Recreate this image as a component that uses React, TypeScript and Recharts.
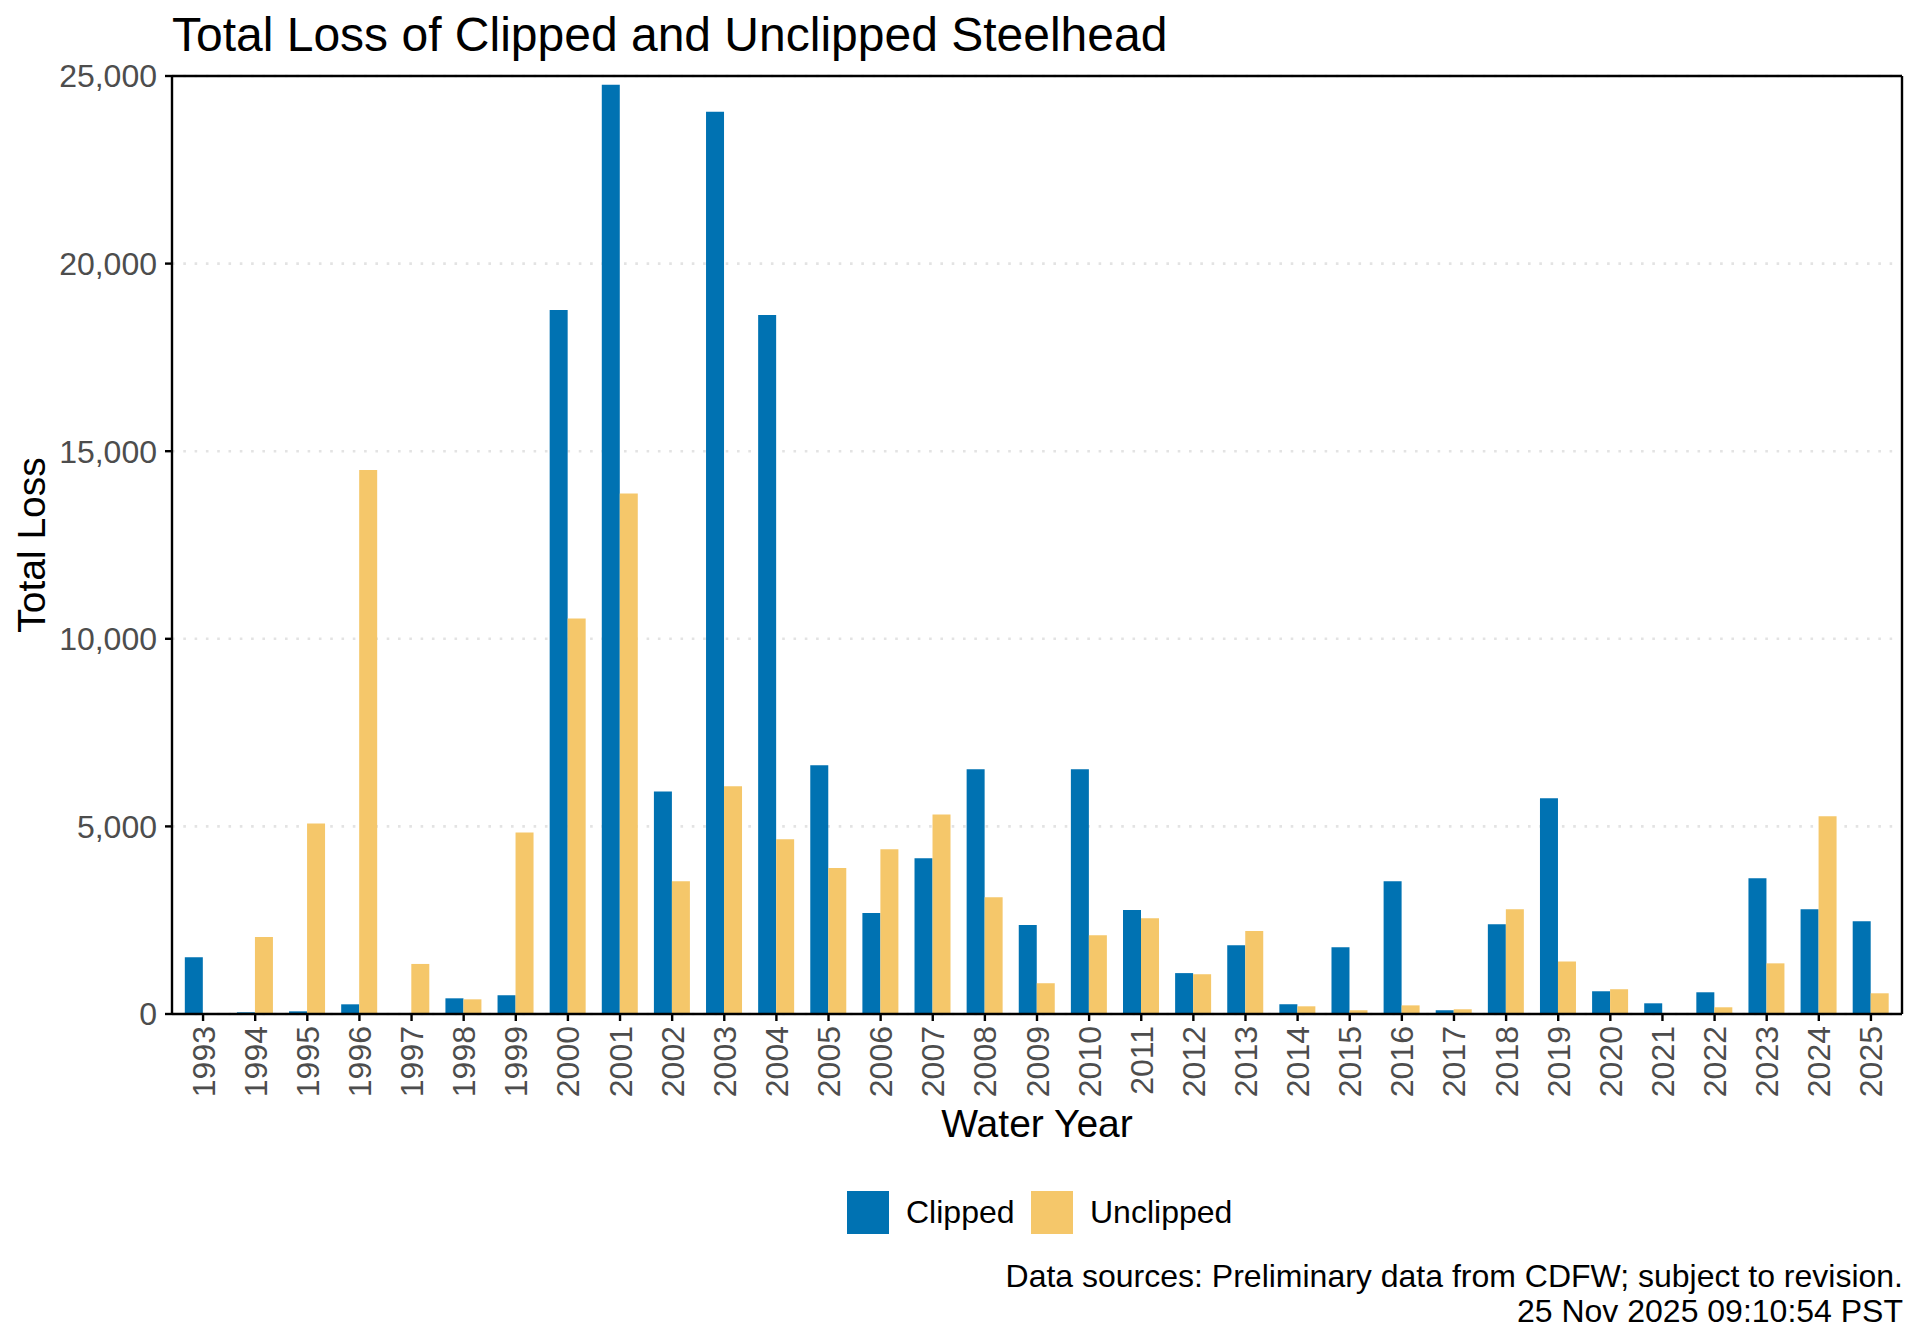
import { BarChart, Bar, XAxis, YAxis, CartesianGrid } from 'recharts'

// water years on the x axis
const years = [
  '1993', '1994', '1995', '1996', '1997', '1998', '1999', '2000', '2001', '2002', '2003',
  '2004', '2005', '2006', '2007', '2008', '2009', '2010', '2011', '2012', '2013', '2014',
  '2015', '2016', '2017', '2018', '2019', '2020', '2021', '2022', '2023', '2024', '2025',
]

// total loss
const clipped = [
  1510, 45, 71, 258, 0, 418, 498, 18760, 24770, 5930, 24050,
  18630, 6630, 2690, 4150, 6520, 2370, 6520, 2770, 1090, 1830, 260,
  1780, 3540, 100, 2390, 5750, 606, 285, 579, 3620, 2790, 2470,
]
const unclipped = [
  0, 2055, 5080, 14500, 1334, 391, 4840, 10540, 13870, 3540, 6070,
  4660, 3890, 4390, 5320, 3110, 820, 2100, 2550, 1060, 2210, 205,
  100, 230, 126, 2790, 1400, 660, 20, 179, 1350, 5270, 552,
]

const yTicks = [0, 5000, 10000, 15000, 20000, 25000]

const FONT = '"Liberation Sans", Arial, Helvetica, sans-serif'
const GREY = '#4d4d4d'
const SMALL = 32

const series = [
  { key: 'Clipped', color: '#0072B2' },
  { key: 'Unclipped', color: '#F5C76A' },
]

const data = years.map((year, i) => ({
  year,
  Clipped: clipped[i],
  Unclipped: unclipped[i],
}))

const W = 1920
const H = 1344

// rotated year labels, centred on the tick
function YearTick(props: any) {
  const { x, y, payload } = props
  return (
    <text
      x={x}
      y={y}
      dy="0.36em"
      transform={`rotate(-90 ${x} ${y})`}
      textAnchor="end"
      fill={GREY}
      fontSize={SMALL}
      fontFamily={FONT}
    >
      {payload.value}
    </text>
  )
}

const border = { stroke: '#000', strokeWidth: 2.4 }

export default function App() {
  return (
    <div style={{ position: 'absolute', left: 0, top: 0, width: W, height: H, background: '#fff', fontFamily: FONT }}>
      <BarChart
        width={W}
        height={H}
        data={data}
        margin={{ top: 75, right: 17, bottom: 240, left: 0 }}
        barCategoryGap="15%"
        barGap={0}
      >
        <CartesianGrid
          horizontal
          vertical={false}
          stroke="#e3e3e3"
          strokeWidth={2.6}
          strokeDasharray="2.6 8.7"
        />
        <XAxis
          dataKey="year"
          height={90}
          interval={0}
          padding={{ left: 5, right: 5 }}
          tickSize={7}
          tickMargin={5}
          tick={<YearTick />}
          axisLine={border}
          tickLine={border}
        />
        <XAxis
          xAxisId="top"
          dataKey="year"
          orientation="top"
          height={1}
          padding={{ left: 5, right: 5 }}
          tick={false}
          tickLine={false}
          axisLine={border}
        />
        <YAxis
          width={172}
          domain={[0, 25000]}
          ticks={yTicks}
          interval={0}
          tickSize={7}
          tickMargin={8}
          tickFormatter={(v: number) => v.toLocaleString('en-US')}
          tick={{ fill: GREY, fontSize: SMALL, fontFamily: FONT }}
          axisLine={border}
          tickLine={border}
        />
        <YAxis
          yAxisId="right"
          orientation="right"
          width={1}
          domain={[0, 25000]}
          tick={false}
          tickLine={false}
          axisLine={border}
        />
        {series.map((s) => (
          <Bar key={s.key} dataKey={s.key} fill={s.color} isAnimationActive={false} />
        ))}
      </BarChart>

      {/* titles, legend, caption */}
      <svg
        width={W}
        height={H}
        style={{ position: 'absolute', left: 0, top: 0, pointerEvents: 'none' }}
        fontFamily={FONT}
      >
        <text x={172} y={51} fontSize={48} fill="#000">
          Total Loss of Clipped and Unclipped Steelhead
        </text>
        <text x={45} y={545} fontSize={39} fill="#000" textAnchor="middle" transform="rotate(-90 45 545)">
          Total Loss
        </text>
        <text x={1037} y={1137} fontSize={39} fill="#000" textAnchor="middle">
          Water Year
        </text>

        <rect x={847} y={1191} width={42} height={43} fill={series[0].color} />
        <text x={906} y={1223} fontSize={SMALL} fill="#000">{series[0].key}</text>
        <rect x={1031} y={1191} width={42} height={43} fill={series[1].color} />
        <text x={1090} y={1223} fontSize={SMALL} fill="#000">{series[1].key}</text>

        <text x={1903} y={1287} fontSize={SMALL} fill="#000" textAnchor="end">
          Data sources: Preliminary data from CDFW; subject to revision.
        </text>
        <text x={1903} y={1322} fontSize={SMALL} fill="#000" textAnchor="end">
          25 Nov 2025 09:10:54 PST
        </text>
      </svg>
    </div>
  )
}
